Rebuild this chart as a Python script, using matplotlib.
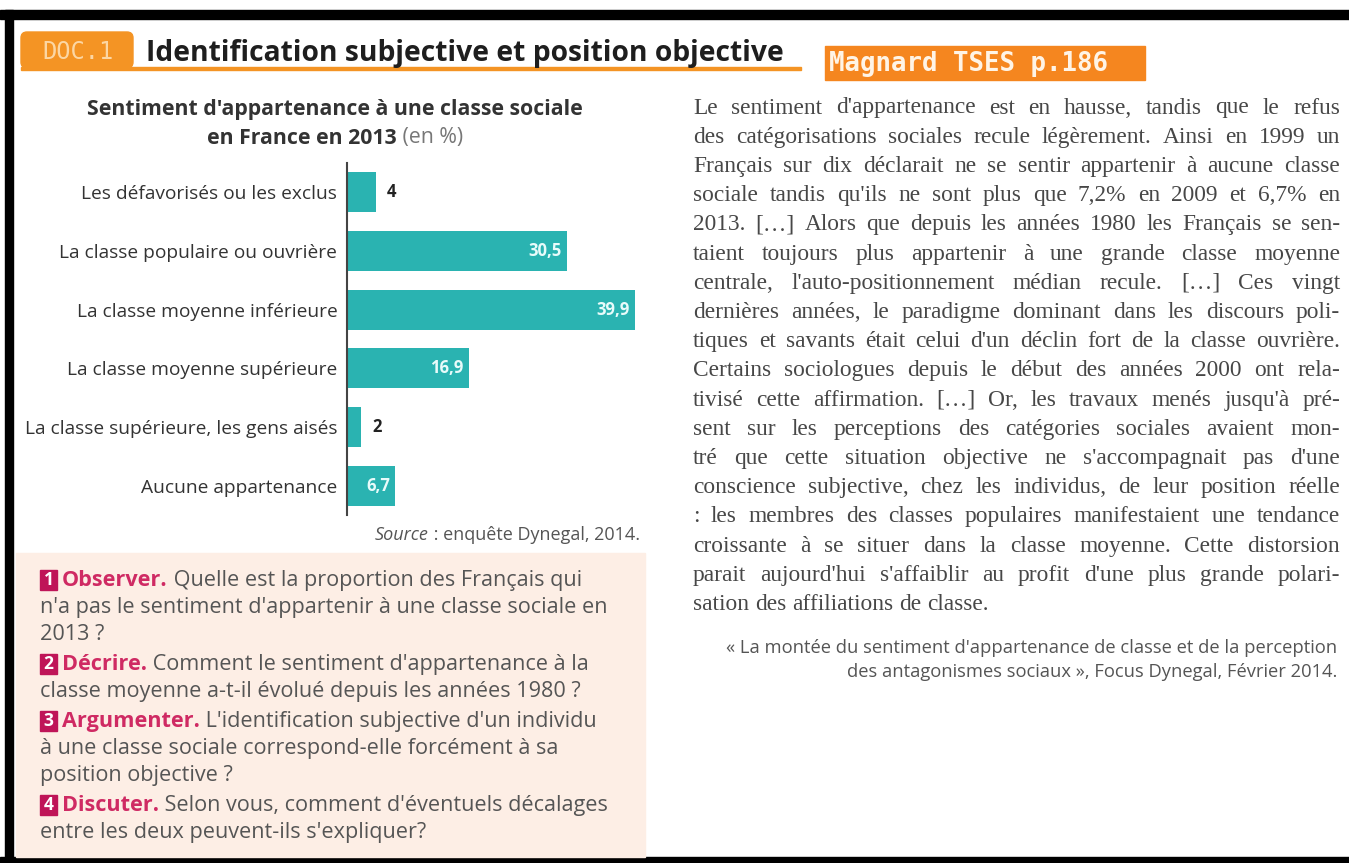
"""
Doc page: sentiment d'appartenance a une classe sociale (Magnard TSES p.186)
"""

import matplotlib
matplotlib.use('Agg')
from matplotlib import pyplot as plt
from matplotlib.patches import Rectangle, FancyBboxPatch

# --------------------------------------------------------------------------------------------------
# Data
# --------------------------------------------------------------------------------------------------

categories = ['Les défavorisés ou les exclus',
              'La classe populaire ou ouvrière',
              'La classe moyenne inférieure',
              'La classe moyenne supérieure',
              'La classe supérieure, les gens aisés',
              'Aucune appartenance']
values = [4, 30.5, 39.9, 16.9, 2, 6.7]

body_lines = [
    "Le sentiment d'appartenance est en hausse, tandis que le refus",
    "des catégorisations sociales recule légèrement. Ainsi en 1999 un",
    "Français sur dix déclarait ne se sentir appartenir à aucune classe",
    "sociale tandis qu'ils ne sont plus que 7,2% en 2009 et 6,7% en",
    "2013. […] Alors que depuis les années 1980 les Français se sen-",
    "taient toujours plus appartenir à une grande classe moyenne",
    "centrale, l'auto-positionnement médian recule. […] Ces vingt",
    "dernières années, le paradigme dominant dans les discours poli-",
    "tiques et savants était celui d'un déclin fort de la classe ouvrière.",
    "Certains sociologues depuis le début des années 2000 ont rela-",
    "tivisé cette affirmation. […] Or, les travaux menés jusqu'à pré-",
    "sent sur les perceptions des catégories sociales avaient mon-",
    "tré que cette situation objective ne s'accompagnait pas d'une",
    "conscience subjective, chez les individus, de leur position réelle",
    ": les membres des classes populaires manifestaient une tendance",
    "croissante à se situer dans la classe moyenne. Cette distorsion",
    "parait aujourd'hui s'affaiblir au profit d'une plus grande polari-",
    "sation des affiliations de classe.",
]

citation = ["« La montée du sentiment d'appartenance de classe et de la perception",
            "des antagonismes sociaux », Focus Dynegal, Février 2014."]

# (number, bold verb, rest of first line), then continuation lines
questions = [
    ('1', 'Observer.', ' Quelle est la proportion des Français qui',
     ["n'a pas le sentiment d'appartenir à une classe sociale en", "2013 ?"]),
    ('2', 'Décrire.', " Comment le sentiment d'appartenance à la",
     ["classe moyenne a-t-il évolué depuis les années 1980 ?"]),
    ('3', 'Argumenter.', " L'identification subjective d'un individu",
     ["à une classe sociale correspond-elle forcément à sa", "position objective ?"]),
    ('4', 'Discuter.', " Selon vous, comment d'éventuels décalages",
     ["entre les deux peuvent-ils s'expliquer?"]),
]

# --------------------------------------------------------------------------------------------------
# Figure + pixel overlay (x right, y down)
# --------------------------------------------------------------------------------------------------

W, H = 1349, 863
SANS = ['Open Sans', 'DejaVu Sans']
SERIF = ['Liberation Serif', 'DejaVu Serif']
MONO = ['DejaVu Sans Mono']
teal = '#2ab3b1'
orange = '#f5861f'
pink = '#cf2a63'

fig = plt.figure(figsize=(W / 100, H / 100), dpi=100)
bg = fig.add_axes([0, 0, 1, 1])
bg.set_xlim(0, W)
bg.set_ylim(H, 0)
bg.axis('off')
renderer = fig.canvas.get_renderer()

def width(t):
    return t.get_window_extent(renderer).width

# frame
bg.add_patch(Rectangle((0, 10), W, 9, color='black'))
bg.add_patch(Rectangle((5, 10), 8, H - 10, color='black'))
bg.add_patch(Rectangle((0, 857), W, 6, color='black'))

# header
bg.add_patch(FancyBboxPatch((21, 32), 112, 36, boxstyle='round,pad=0,rounding_size=6',
                            color='#f49424'))
bg.add_patch(Rectangle((21, 67), 780, 3, color='#f49424'))
bg.text(78, 52, 'DOC.1', family=MONO, fontsize=17, color='#fcd7a4', ha='center', va='center')
bg.text(146, 53, 'Identification subjective et position objective', family=SANS,
        fontsize=20.3, fontweight='bold', color='#1e1e1e', va='center')
bg.add_patch(Rectangle((825, 46), 320, 34, color=orange))
bg.text(829, 64, 'Magnard TSES p.186', family=MONO, fontsize=18.5, fontweight='bold',
        color='#fff4e6', va='center')

# chart title + source
t1 = bg.text(335, 110, "Sentiment d'appartenance à une classe sociale", family=SANS,
             fontsize=15.3, fontweight='bold', color='#333333', ha='center', va='center')
ta = bg.text(0, 138, 'en France en 2013', family=SANS, fontsize=15.3, fontweight='bold',
             color='#333333', va='center')
tb = bg.text(0, 138, ' (en %)', family=SANS, fontsize=15.3, color='#777777', va='center')
x = 335 - (width(ta) + width(tb)) / 2
ta.set_x(x)
tb.set_x(x + width(ta))
s2 = bg.text(0, 535, ' : enquête Dynegal, 2014.', family=SANS, fontsize=13, color='#555555',
             va='center')
s1 = bg.text(0, 535, 'Source', family=SANS, fontsize=13, style='italic', color='#555555',
             va='center')
s2.set_x(640 - width(s2))
s1.set_x(640 - width(s2) - width(s1))

# --------------------------------------------------------------------------------------------------
# Bar chart
# --------------------------------------------------------------------------------------------------

ax = fig.add_axes([347 / W, 1 - 515 / H, 289 / W, 352 / H])
ax.patch.set_alpha(0)
pos = range(len(categories))
ax.barh(pos, values, height=0.68, color=teal)
ax.set_ylim(len(categories) - 0.5, -0.5)
ax.set_xlim(0, 40)
ax.set_yticks(list(pos))
ax.set_yticklabels(categories, family=SANS, fontsize=13.8, color='#333333')
ax.tick_params(axis='y', length=0, pad=7)
ax.set_xticks([])
for side in ['top', 'right', 'bottom']:
    ax.spines[side].set_visible(False)
ax.spines['left'].set_color('#444444')
ax.spines['left'].set_linewidth(1.5)

for i, v in enumerate(values):
    label = ('%g' % v).replace('.', ',')
    if v > 5:
        ax.annotate(label, (v, i), xytext=(-4, 0), textcoords='offset points', ha='right',
                    va='center', family=SANS, fontsize=12, fontweight='bold', color='#e8fbfa')
    else:
        ax.annotate(label, (v, i), xytext=(8, 0), textcoords='offset points', ha='left',
                    va='center', family=SANS, fontsize=12, fontweight='bold', color='#222222')

# --------------------------------------------------------------------------------------------------
# Questions box
# --------------------------------------------------------------------------------------------------

bg.add_patch(Rectangle((16, 553), 629, 304, color='#fdeee5'))
y = 580
for num, verb, rest, more in questions:
    bg.add_patch(Rectangle((40, y - 10), 17, 20, color='#bf1558'))
    bg.text(48.5, y, num, family=SANS, fontsize=12.5, fontweight='bold', color='white',
            ha='center', va='center')
    tv = bg.text(62, y, verb, family=SANS, fontsize=15.6, fontweight='bold', color=pink,
                 va='center')
    bg.text(62 + width(tv), y, rest, family=SANS, fontsize=15.6, color='#555555', va='center')
    for line in more:
        y += 27
        bg.text(40, y, line, family=SANS, fontsize=15.6, color='#555555', va='center')
    y += 30

# --------------------------------------------------------------------------------------------------
# Right column text (justified)
# --------------------------------------------------------------------------------------------------

x0, x1 = 693, 1340
probe = bg.text(0, 0, 'n', family=SERIF, fontsize=16.8)
space = width(probe) * 0.5
probe.remove()
for k, line in enumerate(body_lines):
    yy = 108 + 29.2 * k
    words = line.split(' ')
    texts = [bg.text(0, yy, w, family=SERIF, fontsize=16.8, color='#474747', va='center')
             for w in words]
    widths = [width(t) for t in texts]
    if k == len(body_lines) - 1:
        gap = space
    else:
        gap = (x1 - x0 - sum(widths)) / max(len(words) - 1, 1)
    xx = x0
    for t, w in zip(texts, widths):
        t.set_x(xx)
        xx += w + gap

for k, line in enumerate(citation):
    bg.text(1337, 648 + 24 * k, line, family=SANS, fontsize=13.2, color='#555555', ha='right',
            va='center')

fig.savefig('out.png', dpi=100)
